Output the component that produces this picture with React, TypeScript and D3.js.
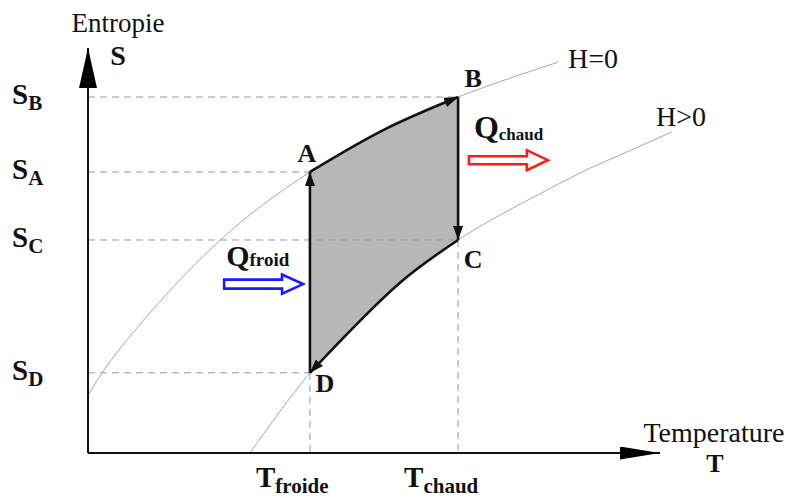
import React from "react";
import * as d3 from "d3";

// ---- data (T = temperature units, S = entropy units) ----
const T_LEVELS = [
  { key: "froide", t: 3.88 },
  { key: "chaud", t: 6.47 },
];
const S_LEVELS = [
  { key: "B", s: 8.79 },
  { key: "A", s: 6.94 },
  { key: "C", s: 5.26 },
  { key: "D", s: 1.98 },
];
const CYCLE_POINTS = [
  { name: "A", t: 3.88, s: 6.94 },
  { name: "B", t: 6.47, s: 8.79 },
  { name: "C", t: 6.47, s: 5.26 },
  { name: "D", t: 3.88, s: 1.98 },
];
// curve H=0
const H0_T = [0, 0.21, 0.96, 1.49, 2.26, 3.88, 5.17, 6.47, 7.43, 8.22];
const H0_S = [1.43, 1.9, 3.26, 4.1, 5.19, 6.94, 7.98, 8.79, 9.28, 9.65];
// curve H>0
const HP_T = [2.83, 3.88, 5.45, 6.47, 7.59, 8.16, 8.74, 9.34, 10.21];
const HP_S = [0, 1.98, 4.2, 5.26, 6.17, 6.59, 7.01, 7.38, 7.93];
// cycle edges
const AB_T = [3.88, 5.17, 6.47];
const AB_S = [6.94, 7.98, 8.79];
const CD_T = [6.47, 5.45, 3.88];
const CD_S = [5.26, 4.2, 1.98];
// heat arrows
const Q_ARROWS = [
  { key: "chaud", t0: 6.66, t1: 8.04, s: 7.23, color: "#ff1a1a" },
  { key: "froid", t0: 2.38, t1: 3.76, s: 4.17, color: "#1a1aff" },
];

const W = 789;
const H = 498;
const FONT = "'Liberation Serif', 'Times New Roman', serif";

const x = d3.scaleLinear().domain([0, 10]).range([88, 660]);
const y = d3.scaleLinear().domain([0, 10]).range([453, 48]);

type P = [number, number];
const zip = (ts: number[], ss: number[]): P[] => ts.map((t, i) => [t, ss[i]]);

const smoothLine = d3
  .line<P>()
  .x((d) => x(d[0]))
  .y((d) => y(d[1]))
  .curve(d3.curveMonotoneX);
const edgeLine = d3
  .line<P>()
  .x((d) => x(d[0]))
  .y((d) => y(d[1]))
  .curve(d3.curveCatmullRom.alpha(0.5));
const straight = d3
  .line<P>()
  .x((d) => x(d[0]))
  .y((d) => y(d[1]));

function blockArrow(x0: number, x1: number, yc: number, hs: number, hh: number, hl: number) {
  const pts: P[] = [
    [x0, yc - hs],
    [x1 - hl, yc - hs],
    [x1 - hl, yc - hh],
    [x1, yc],
    [x1 - hl, yc + hh],
    [x1 - hl, yc + hs],
    [x0, yc + hs],
  ];
  return "M" + pts.map((p) => p.join(",")).join("L") + "Z";
}

export default function App() {
  const pt = (n: string) => CYCLE_POINTS.find((p) => p.name === n)!;
  const A = pt("A"), B = pt("B"), C = pt("C"), D = pt("D");

  const abPath = edgeLine(zip(AB_T, AB_S)) as string;
  const cdPath = edgeLine(zip(CD_T, CD_S)) as string;
  const fillPath = abPath + "L" + cdPath.slice(1) + "Z";

  const dash = { stroke: "#9a9a9a", strokeWidth: 1, strokeDasharray: "7,5", fill: "none" };
  const edge = { stroke: "#111", strokeWidth: 2.6, fill: "none" };

  const labelOffsets: Record<string, [number, number]> = {
    A: [-3, -10],
    B: [15, -10],
    C: [15, 28],
    D: [15, 19],
  };

  return (
    <svg
      width={W}
      height={H}
      style={{ position: "absolute", left: 0, top: 0, background: "#fff" }}
      fontFamily={FONT}
    >
      <defs>
        <marker id="hSmall" markerUnits="userSpaceOnUse" viewBox="0 0 14 10" markerWidth={14} markerHeight={10} refX={14} refY={5} orient="auto">
          <path d="M0,0L14,5L0,10Z" fill="#111" />
        </marker>
        <marker id="hY" markerUnits="userSpaceOnUse" viewBox="0 0 40 18" markerWidth={40} markerHeight={18} refX={40} refY={9} orient="auto">
          <path d="M0,0L40,9L0,18Z" fill="#000" />
        </marker>
        <marker id="hX" markerUnits="userSpaceOnUse" viewBox="0 0 40 13" markerWidth={40} markerHeight={13} refX={40} refY={6.5} orient="auto">
          <path d="M0,0L40,6.5L0,13Z" fill="#000" />
        </marker>
      </defs>

      {/* thin curves */}
      <path d={smoothLine(zip(H0_T, H0_S)) as string} stroke="#a8a8a8" strokeWidth={1} fill="none" />
      <path d={smoothLine(zip(HP_T, HP_S)) as string} stroke="#a8a8a8" strokeWidth={1} fill="none" />

      {/* cycle fill */}
      <path d={fillPath} fill="#b7b7b7" stroke="none" />

      {/* dashed guides */}
      {S_LEVELS.map((lv) => {
        const p = CYCLE_POINTS.find((c) => c.name === lv.key)!;
        return <path key={"hs" + lv.key} d={straight([[0, lv.s], [p.t, lv.s]]) as string} style={dash as any} />;
      })}
      <path d={straight([[D.t, D.s], [D.t, 0]]) as string} style={dash as any} />
      <path d={straight([[C.t, C.s], [C.t, 0]]) as string} style={dash as any} />

      {/* cycle edges */}
      <path d={abPath} {...edge} markerEnd="url(#hSmall)" />
      <path d={straight([[B.t, B.s], [C.t, C.s]]) as string} {...edge} markerEnd="url(#hSmall)" />
      <path d={cdPath} {...edge} markerEnd="url(#hSmall)" />
      <path d={straight([[D.t, D.s], [A.t, A.s]]) as string} {...edge} markerEnd="url(#hSmall)" />

      {/* axes */}
      <path d={straight([[0, 0], [0, 10]]) as string} stroke="#111" strokeWidth={2} markerEnd="url(#hY)" />
      <path d={straight([[0, 0], [10, 0]]) as string} stroke="#111" strokeWidth={2} markerEnd="url(#hX)" />

      {/* axis titles */}
      <text x={118} y={32} fontSize={27} textAnchor="middle" fill="#111">Entropie</text>
      <text x={118} y={65} fontSize={28} fontWeight="bold" textAnchor="middle" fill="#111">S</text>
      <text x={714} y={442} fontSize={28} textAnchor="middle" fill="#111">Temperature</text>
      <text x={715} y={472} fontSize={26} fontWeight="bold" textAnchor="middle" fill="#111">T</text>

      {/* S level labels */}
      {S_LEVELS.map((lv) => (
        <text key={"sl" + lv.key} x={12} y={y(lv.s) + 7} fontWeight="bold" fill="#111">
          <tspan fontSize={29}>S</tspan>
          <tspan fontSize={21} dy={6}>{lv.key}</tspan>
        </text>
      ))}

      {/* T level labels */}
      {T_LEVELS.map((lv) => (
        <text key={"tl" + lv.key} x={x(lv.t) - 54} y={y(0) + 34} fontWeight="bold" fill="#111">
          <tspan fontSize={29}>T</tspan>
          <tspan fontSize={21} dy={6}>{lv.key}</tspan>
        </text>
      ))}

      {/* point labels */}
      {CYCLE_POINTS.map((p) => (
        <text
          key={"pl" + p.name}
          x={x(p.t) + labelOffsets[p.name][0]}
          y={y(p.s) + labelOffsets[p.name][1]}
          fontSize={26}
          fontWeight="bold"
          textAnchor="middle"
          fill="#111"
        >
          {p.name}
        </text>
      ))}

      {/* curve labels */}
      <text x={568} y={68} fontSize={28} fill="#111">H=0</text>
      <text x={656} y={126} fontSize={28} fill="#111">H&gt;0</text>

      {/* heat arrows */}
      {Q_ARROWS.map((q) => {
        const x0 = x(q.t0), x1 = x(q.t1), yc = y(q.s);
        const chaud = q.key === "chaud";
        return (
          <g key={"q" + q.key}>
            <path
              d={blockArrow(x0, x1, yc, chaud ? 4 : 4.5, chaud ? 10 : 9.5, 21)}
              fill="#fff"
              stroke={q.color}
              strokeWidth={2.6}
              strokeLinejoin="miter"
            />
            <text x={x0 + (chaud ? 5 : 2)} y={yc - (chaud ? 22 : 18)} fontWeight="bold" fill="#111">
              <tspan fontSize={chaud ? 32 : 30}>Q</tspan>
              <tspan fontSize={chaud ? 17 : 19} dy={chaud ? 2 : 0}>{q.key}</tspan>
            </text>
          </g>
        );
      })}
    </svg>
  );
}
